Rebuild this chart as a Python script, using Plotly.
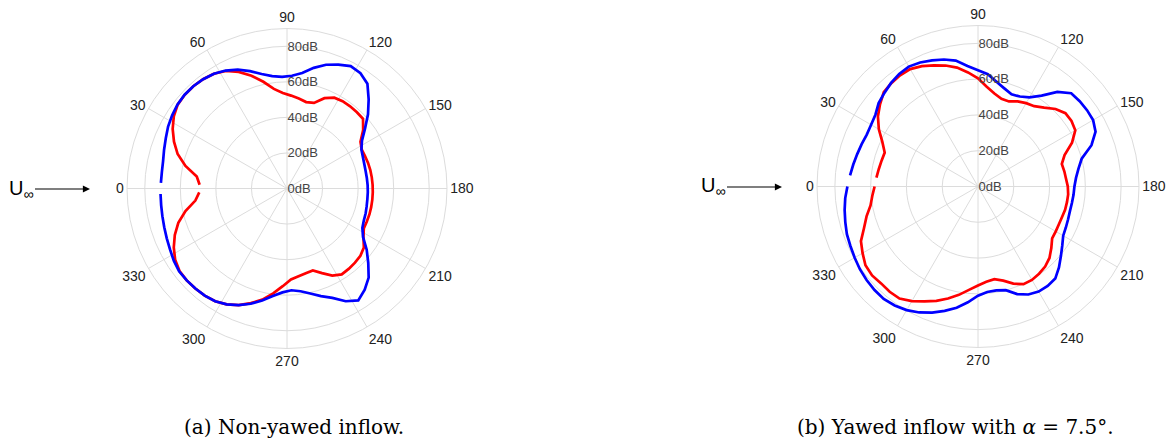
import plotly.graph_objects as go

# ---------------- data ----------------
theta_a = [2.5 + 5 * k for k in range(72)]
theta_b = [5 + 5 * k for k in range(72)]

blue_a = [71, 71, 71.4, 72.5, 73.8, 75.4, 76.6, 77.6, 78.1, 78, 77.5, 76.5,
          74.8, 72.4, 69.2, 66, 63.8, 62.8, 63.5, 65.5, 69.5, 73, 75.4, 77.6,
          76.9, 74.3, 68, 61.8, 55.3, 50, 47.2, 46.2, 45.6, 45.3, 45.3, 45.4,
          45.5, 45.6, 45.9, 46.4, 46.8, 47.8, 50.7, 56.5, 62, 68, 71.8, 74.6,
          71.5, 66.6, 63.5, 60.5, 58.3, 57.3, 58.5, 61, 64.5, 68, 71, 73.5,
          75.2, 76, 76.3, 76.5, 76.5, 75.5, 74.2, 73.2, 72.4, 71.8, 71.4, 71.2]

red_a = [49.2, 51.2, 58.5, 64.5, 68.8, 72.5, 75.5, 77.5, 78, 78, 77.5, 76.5,
         74.5, 71, 66.5, 61.5, 56.5, 53.8, 52.3, 51, 49.8, 50.5, 55, 57.6,
         58.2, 58.3, 58.2, 58, 54, 49, 47.4, 47.5, 47.8, 48, 48.1, 48.2,
         48.3, 48.4, 48.5, 48.6, 48.6, 48.7, 51, 54.5, 56, 56.6, 57, 57.3,
         55.2, 51.5, 48.3, 48.8, 49.8, 51.2, 55, 59.5, 64, 67.6, 71, 73.5,
         75.2, 76, 76.3, 76.5, 76.2, 74.6, 71.8, 68.3, 64.1, 58.5, 52, 49.4]

blue_b = [71.8, 70.8, 69.9, 69.2, 68.6, 69, 70, 72.5, 74, 75.6, 76.8, 77.4,
          76.5, 75, 73.5, 71.5, 67.6, 65, 63, 59.5, 56.8, 54.8, 55.5, 57.5,
          62, 69, 73.7, 74.2, 74.4, 74.3, 72.5, 67.5, 60, 57, 55, 53.9,
          53.6, 53.3, 53.2, 53.6, 54.2, 55, 57.5, 60.5, 64, 67.2, 67.9, 67.8,
          66.6, 64, 60, 59, 59.2, 61, 65, 68.8, 72, 75, 77.7, 79.8,
          81.2, 82, 81.8, 81.3, 80.6, 79.6, 78.7, 78, 76.8, 75.7, 74.5, 73]

red_b = [57, 56.3, 55.8, 55.5, 59, 64, 68.3, 71.5, 74.5, 75.4, 75.9, 75.8,
         74.2, 72, 70, 67.5, 64, 60.5, 56, 52.8, 50.7, 50.6, 52.5, 53.8,
         54.8, 57.5, 61.3, 63.8, 63.8, 62.8, 58, 51.5, 48.5, 49, 49.4, 50.2,
         50.6, 50.5, 50.4, 50, 49.9, 50.2, 50.6, 53.5, 56.5, 58.4, 59.5, 60.3,
         60.2, 57.8, 54.5, 52.6, 53.5, 55.3, 58, 61.5, 64.8, 68, 70.8, 74,
         76.5, 76.8, 76.6, 77.3, 76.8, 74.5, 72.2, 67.8, 64.5, 61, 59.3, 57.8]

angle_ticks = list(range(0, 360, 30))
radial_ticks = [0, 20, 40, 60, 80]
radial_labels = [f"{v}dB" for v in radial_ticks]
captions = ["(a) Non-yawed inflow.", "(b) Yawed inflow with <i>α</i> = 7.5°."]

# ---------------- figure ----------------
fig = go.Figure()
for sub, th, blue, red in [("polar", theta_a, blue_a, red_a),
                           ("polar2", theta_b, blue_b, red_b)]:
    fig.add_trace(go.Scatterpolar(r=red, theta=th, mode="lines", subplot=sub,
                                  line=dict(color="#ff0000", width=2.7)))
    fig.add_trace(go.Scatterpolar(r=blue, theta=th, mode="lines", subplot=sub,
                                  line=dict(color="#0000ff", width=2.7)))

W, H = 1168, 441
grid = "#dcdcdc"


def polar_layout(cx, cy, rad):
    return dict(
        domain=dict(x=[(cx - rad) / W, (cx + rad) / W],
                    y=[1 - (cy + rad) / H, 1 - (cy - rad) / H]),
        bgcolor="white",
        angularaxis=dict(rotation=180, direction="clockwise",
                         tickvals=angle_ticks,
                         ticktext=[str(a) for a in angle_ticks],
                         showgrid=True, gridcolor=grid, gridwidth=1,
                         showline=True, linecolor=grid, linewidth=1,
                         ticks="", tickfont=dict(family="Liberation Sans, Arial",
                                                 size=14, color="#222")),
        radialaxis=dict(range=[0, 90], tickvals=radial_ticks,
                        ticktext=radial_labels, tickangle=90,
                        angle=90, showline=False, showgrid=True, gridcolor=grid,
                        gridwidth=1, ticks="",
                        tickfont=dict(family="Liberation Sans, Arial", size=13,
                                      color="#444")),
    )


fig.update_layout(
    width=W, height=H, margin=dict(l=0, r=0, t=0, b=0),
    paper_bgcolor="white", plot_bgcolor="white", showlegend=False,
    polar=polar_layout(287, 188.5, 160),
    polar2=polar_layout(978, 186.5, 161),
)

# U-infinity label with its arrow (text sits at the arrow's tail)
for ax0, ax1, uy in [(35, 90, 189), (727, 782, 187)]:
    fig.add_annotation(x=ax1 / W, y=1 - uy / H, ax=-(ax1 - ax0), ay=0,
                       xref="paper", yref="paper", axref="pixel", ayref="pixel",
                       showarrow=True, arrowhead=2, arrowsize=1.3, arrowwidth=1.1,
                       arrowcolor="black", standoff=0, startstandoff=0,
                       xanchor="right", yanchor="middle",
                       text="U<sub>∞</sub>",
                       font=dict(family="Liberation Sans, Arial", size=20,
                                 color="black"))

for cx, txt in [(293.5, captions[0]), (955, captions[1])]:
    fig.add_annotation(x=cx / W, y=1 - 427 / H, xref="paper", yref="paper",
                       xanchor="center", yanchor="middle", showarrow=False,
                       text=txt,
                       font=dict(family="DejaVu Serif", size=20, color="black"))

fig.write_html("out.html")
